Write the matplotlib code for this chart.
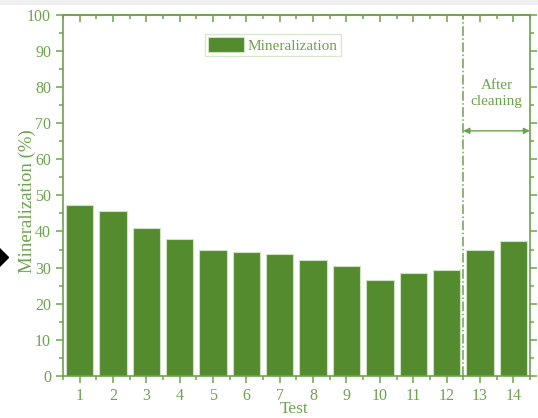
import matplotlib.pyplot as plt
from matplotlib.lines import Line2D
from matplotlib.patches import Rectangle
from matplotlib.ticker import MultipleLocator

plt.rcParams['font.family'] = ['Liberation Serif', 'DejaVu Serif']

tests = [1, 2, 3, 4, 5, 6, 7, 8, 9, 10, 11, 12, 13, 14]
mineralization = [47.3, 45.7, 41.1, 38.0, 34.8, 34.4, 33.7, 32.1, 30.4, 26.6, 28.4, 29.2, 34.9, 37.3]
cleaning_at = 12.5

bar_green = '#558b2f'
line_green = '#6da34d'

fig = plt.figure(figsize=(5.38, 4.18), dpi=100)
ax = fig.add_axes([0.117, 0.101, 0.868, 0.863])

ax.bar(tests, mineralization, width=0.82, color=bar_green, edgecolor='#cfe3c2',
       linewidth=0.8, label='Mineralization')

ax.set_xlim(0.5, 14.5)
ax.set_ylim(0, 100)
ax.set_xticks(tests)
ax.xaxis.set_minor_locator(MultipleLocator(0.5))
ax.yaxis.set_major_locator(MultipleLocator(10))
ax.yaxis.set_minor_locator(MultipleLocator(5))

for s in ax.spines.values():
    s.set_color(line_green)
    s.set_linewidth(1.2)

ax.tick_params(which='both', colors=line_green, labelsize=11.5, direction='out',
               right=True, width=1.1)
ax.tick_params(which='major', length=5)
ax.tick_params(which='minor', length=3)
ax.tick_params(axis='y', which='both', labelright=False)
ax.tick_params(axis='y', which='both', length=3)
ax.tick_params(axis='y', which='major', left=True, length=5)

# top axis ticks point inward
top = ax.secondary_xaxis('top')
top.set_xticks(tests)
top.xaxis.set_minor_locator(MultipleLocator(0.5))
top.tick_params(which='both', direction='in', colors=line_green, labeltop=False, width=1.1)
top.tick_params(which='major', length=5)
top.tick_params(which='minor', length=3)
top.spines['top'].set_color(line_green)
top.spines['top'].set_linewidth(1.2)

ax.set_xlabel('Test', fontsize=12.5, color=line_green)
ax.xaxis.set_label_coords(0.495, -0.071)
ax.set_ylabel('Mineralization (%)', fontsize=13.5, color=line_green)
ax.yaxis.set_label_coords(-0.058, 0.484)

# cleaning marker
ax.axvline(cleaning_at, color=line_green, linestyle='-.', linewidth=1.1)
ax.annotate('', xy=(14.5, 67.9), xytext=(cleaning_at, 67.9),
            arrowprops=dict(arrowstyle='<|-|>', color=line_green, lw=1,
                            mutation_scale=9, shrinkA=0, shrinkB=0))
ax.text(13.5, 78.2, 'After\ncleaning', ha='center', va='center', fontsize=11,
        color=line_green, linespacing=1.3)

leg = ax.legend(loc='upper left', bbox_to_anchor=(0.304, 0.947), borderaxespad=0,
                fancybox=False, fontsize=11, handlelength=2.35, handleheight=1.1,
                borderpad=0.2, handletextpad=0.25, labelcolor=line_green)
leg.get_frame().set_edgecolor('#cfe3c2')
leg.get_frame().set_linewidth(1)

fig.add_artist(Rectangle((0, 0.988), 1, 0.012, transform=fig.transFigure,
                         facecolor='#f0f0f0', edgecolor='none'))
fig.add_artist(Line2D([-0.004], [0.385], marker='D', markersize=10.5, color='black',
                      transform=fig.transFigure, clip_on=False))

fig.savefig('out.png', dpi=100)
